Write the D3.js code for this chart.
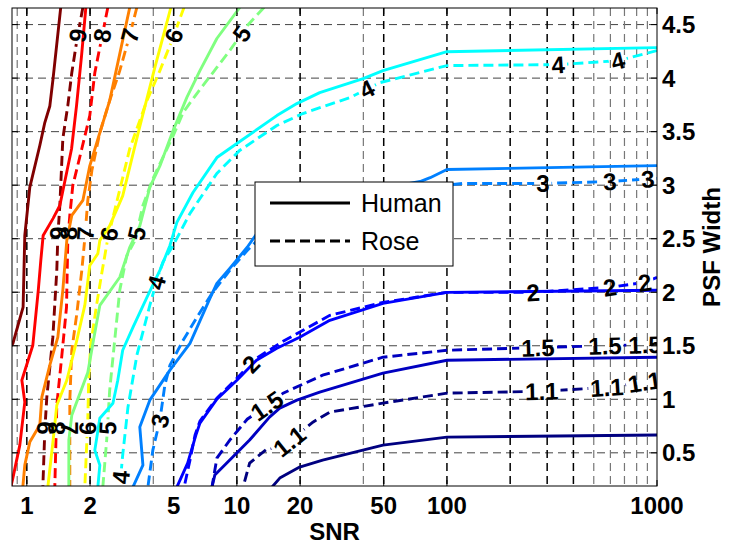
<!DOCTYPE html>
<html>
<head>
<meta charset="utf-8">
<script src="https://cdn.jsdelivr.net/npm/d3@7"></script>
<style>
  body { margin: 0; background: #fff; }
  svg { display: block; font-family: "Liberation Sans", Arial, sans-serif; }
</style>
</head>
<body>
<svg id="chart" width="730" height="546"></svg>
<script>
// contour levels, top-left (dark red) to bottom-right (navy)
const levels = [9, 8, 7, 6, 5, 4, 3, 2, 1.5, 1.1];
const levelColors = ['#800000', '#ff0000', '#ff8000', '#ffff00', '#80ff80',
                     '#00ffff', '#0080ff', '#0000ff', '#0000c0', '#000080'];

// [SNR, PSF width] points, one list per level (same order as levels)
const humanContours = [
  [[1.45,4.66],[1.334,4.0],[1.287,3.74],[1.218,3.585],[1.153,3.37],[1.033,2.98],[0.978,2.53],[0.96,1.86],[0.858,1.52],[0.81,1.46]],
  [[1.91,4.66],[1.822,4.21],[1.724,3.74],[1.633,3.34],[1.436,2.81],[1.334,2.69],[1.196,2.53],[1.166,2.30],[1.134,2.02],[1.068,1.505],[0.947,1.178],[0.978,0.973],[0.926,0.572],[0.858,0.264],[0.839,0.18]],
  [[3.09,4.66],[2.48,3.79],[2.226,3.49],[1.994,3.18],[1.848,2.857],[1.637,2.717],[1.55,2.484],[1.484,2.02],[1.405,1.58],[1.287,1.32],[1.179,1.02],[1.153,0.759],[1.033,0.60],[0.978,0.385],[0.957,0.18]],
  [[4.85,4.66],[4.07,4.10],[3.38,3.48],[2.86,2.90],[2.48,2.62],[2.226,2.484],[2.178,2.36],[1.994,2.25],[1.888,1.877],[1.73,1.551],[1.55,1.178],[1.389,0.945],[1.334,0.619],[1.259,0.18]],
  [[10.33,4.66],[8.03,4.37],[6.67,4.07],[5.78,3.82],[4.97,3.51],[4.30,3.18],[3.85,2.98],[3.45,2.62],[3.09,2.42],[2.77,2.14],[2.226,1.877],[2.084,1.57],[1.951,1.25],[1.637,0.852],[1.585,0.619],[1.585,0.18]],
  [[1000,4.285],[100,4.247],[49.6,4.07],[39.9,3.996],[24.8,3.865],[19.3,3.762],[15.5,3.65],[10,3.389],[8.03,3.258],[6.18,2.932],[5.18,2.652],[4.80,2.437],[4.30,2.204],[3.73,1.952],[3.20,1.672],[2.86,1.458],[2.71,1.178],[2.57,0.963],[2.226,0.823],[2.107,0.525],[2.226,0.385],[2.178,0.18]],
  [[1000,3.183],[100,3.146],[83.2,3.07],[74.5,3.034],[49.6,2.97],[19.9,2.857],[13.2,2.62],[11.2,2.42],[9.25,2.223],[8.03,2.083],[7.44,1.943],[5.98,1.523],[4.80,1.272],[3.85,0.992],[3.45,0.74],[3.57,0.385],[3.20,0.18]],
  [[1000,2.018],[100,1.999],[49.6,1.896],[27.7,1.738],[19.9,1.58],[15.5,1.477],[12.4,1.365],[10,1.178],[8.03,1.001],[6.67,0.777],[6.38,0.665],[5.83,0.404],[5.18,0.18]],
  [[1000,1.393],[100,1.365],[49.6,1.244],[24.8,1.066],[19.3,0.992],[16.0,0.917],[14.3,0.833],[11.5,0.619],[9.25,0.432],[7.85,0.292],[7.61,0.18]],
  [[1000,0.666],[100,0.647],[49.6,0.572],[25.6,0.432],[19.9,0.367],[16.0,0.264],[14.7,0.18]]
];

const roseContours = [
  [[1.848,4.66],[1.73,4.35],[1.637,4.05],[1.567,3.743],[1.484,3.435],[1.436,2.81],[1.405,2.53],[1.389,2.204],[1.33,1.58],[1.287,1.30],[1.245,1.02],[1.218,0.71],[1.192,0.18]],
  [[2.43,4.66],[2.275,4.38],[2.107,4.05],[1.994,3.65],[1.827,3.34],[1.655,2.997],[1.602,2.717],[1.567,2.484],[1.545,1.86],[1.468,1.41],[1.389,0.945],[1.359,0.18]],
  [[3.34,4.66],[3.09,4.40],[2.77,4.07],[2.48,3.79],[2.226,3.49],[2.04,3.137],[1.951,2.857],[1.888,2.503],[1.827,2.204],[1.73,1.80],[1.637,1.458],[1.602,0.992],[1.602,0.18]],
  [[5.6,4.66],[4.97,4.38],[4.30,4.07],[3.73,3.79],[3.09,3.34],[2.62,2.764],[2.43,2.503],[2.275,2.18],[2.154,1.896],[2.012,1.505],[1.97,1.178],[1.951,0.805],[1.888,0.18]],
  [[13.46,4.66],[11.2,4.49],[9.25,4.257],[8.03,4.10],[6.45,3.856],[5.55,3.68],[4.97,3.46],[3.98,3.06],[3.57,2.81],[3.27,2.484],[2.99,2.34],[2.77,2.02],[2.62,1.551],[2.48,1.085],[2.40,0.619],[2.30,0.18]],
  [[1000,4.257],[651,4.163],[337,4.126],[100,4.117],[48.0,3.958],[34.5,3.818],[20.6,3.669],[15.5,3.557],[10.3,3.324],[8.03,3.11],[5.98,2.736],[4.97,2.437],[4.44,2.28],[4.16,2.111],[3.85,1.877],[3.34,1.41],[3.03,0.925],[2.86,0.479],[2.77,0.18]],
  [[1000,3.063],[594,3.034],[287,3.016],[118.9,3.016],[106.9,3.006],[59.8,2.904],[24.8,2.764],[13.2,2.53],[11.2,2.39],[9.25,2.204],[7.67,1.999],[6.45,1.765],[5.55,1.551],[4.80,1.318],[4.54,1.132],[4.30,0.805],[3.98,0.525],[3.77,0.18]],
  [[1000,2.139],[877,2.092],[594,2.046],[256,1.999],[100,1.999],[49.6,1.905],[27.7,1.784],[16.6,1.542],[12.4,1.383],[10,1.197],[8.03,1.01],[6.67,0.796],[6.32,0.665],[5.98,0.432],[5.61,0.18]],
  [[1000,1.514],[307,1.486],[100,1.458],[49.6,1.393],[25.6,1.225],[16.6,1.057],[14.0,0.945],[11.2,0.814],[9.25,0.619],[8.03,0.45],[7.61,0.18]],
  [[1000,1.178],[594,1.113],[294,1.076],[100,1.057],[49.6,0.964],[27.7,0.88],[23.0,0.786],[19.9,0.684],[16.9,0.572],[13.9,0.535],[11.5,0.404],[10.7,0.18]]
];

// inline labels on the Rose contours: [level, SNR, PSF width]
const roseLabels = [
  [9,1.73,4.4],[8,2.25,4.4],[7,3.09,4.4],[6,4.96,4.4],[5,10.5,4.42],
  [9,1.405,2.55],[8,1.62,2.55],[7,1.85,2.55],[6,2.40,2.55],[5,3.34,2.55],
  [9,1.23,0.73],[8,1.40,0.73],[7,1.60,0.73],[6,1.95,0.73],[5,2.48,0.73],
  [4,4.16,2.09],[4,2.83,0.27],[4,42,3.88],[4,338,4.13],[4,652,4.16],
  [3,4.3,0.8],[3,286,3.02],[3,597,3.03],[3,906,3.04],
  [2,11.5,1.34],[2,257,1.99],[2,597,2.04],[2,877,2.08],
  [1.5,14,0.93],[1.5,271,1.48],[1.5,566,1.48],[1.5,877,1.5],
  [1.1,17.9,0.6],[1.1,283,1.07],[1.1,578,1.1],[1.1,877,1.13]
];

const xTicks = [1, 2, 5, 10, 20, 50, 100, 1000];
const xGridMajor = [1, 2, 5, 10, 20, 50, 100, 200, 300, 400];
const xGridMinor = [0.9, 4, 40, 500, 600, 700, 800, 900];
const yTicks = [0.5, 1, 1.5, 2, 2.5, 3, 3.5, 4, 4.5];

const margin = { top: 8, left: 12, right: 73, bottom: 60 };
const W = 730, H = 546;
const width = W - margin.left - margin.right;
const height = H - margin.top - margin.bottom;

const svg = d3.select('#chart');
const defs = svg.append('defs');
defs.append('clipPath').attr('id', 'plotClip')
  .append('rect').attr('width', width).attr('height', height);

const chart = svg.append('g')
  .attr('transform', `translate(${margin.left},${margin.top})`);

const x = d3.scaleLog().domain([0.85, 1000]).range([0, width]);
const y = d3.scaleLinear().domain([0.19, 4.655]).range([height, 0]);

// grid
const grid = chart.append('g').attr('clip-path', 'url(#plotClip)');
grid.selectAll('.hgrid').data(yTicks).join('line')
  .attr('x1', 0).attr('x2', width)
  .attr('y1', d => y(d)).attr('y2', d => y(d))
  .attr('stroke', '#444').attr('stroke-width', 1).attr('stroke-dasharray', '8,5');
grid.selectAll('.vminor').data(xGridMinor).join('line')
  .attr('x1', d => x(d)).attr('x2', d => x(d))
  .attr('y1', 0).attr('y2', height)
  .attr('stroke', '#777').attr('stroke-width', 1.2).attr('stroke-dasharray', '8,5');
grid.selectAll('.vmajor').data(xGridMajor).join('line')
  .attr('x1', d => x(d)).attr('x2', d => x(d))
  .attr('y1', 0).attr('y2', height)
  .attr('stroke', '#000').attr('stroke-width', 1.5).attr('stroke-dasharray', '8,5');

const line = d3.line().x(d => x(d[0])).y(d => y(d[1]));

// label text first, so their boxes can cut gaps into the rose lines
const labelG = chart.append('g').attr('clip-path', 'url(#plotClip)');

function nearestOnPath(pts, px, py) {
  let best = null;
  for (let i = 0; i < pts.length - 1; i++) {
    const ax = x(pts[i][0]), ay = y(pts[i][1]);
    const bx = x(pts[i + 1][0]), by = y(pts[i + 1][1]);
    const dx = bx - ax, dy = by - ay;
    const len2 = dx * dx + dy * dy;
    let t = len2 ? ((px - ax) * dx + (py - ay) * dy) / len2 : 0;
    t = Math.max(0, Math.min(1, t));
    const qx = ax + t * dx, qy = ay + t * dy;
    const dist = (qx - px) ** 2 + (qy - py) ** 2;
    if (!best || dist < best.dist) {
      let ang = Math.atan2(dy, dx) * 180 / Math.PI;
      if (ang > 90) ang -= 180;
      if (ang < -90) ang += 180;
      best = { dist, x: qx, y: qy, ang };
    }
  }
  return best;
}

const maskRects = levels.map(() => []);
roseLabels.forEach(([lev, sx, py]) => {
  const i = levels.indexOf(lev);
  const p = nearestOnPath(roseContours[i], x(sx), y(py));
  const t = labelG.append('text')
    .attr('transform', `translate(${p.x},${p.y}) rotate(${p.ang})`)
    .attr('text-anchor', 'middle')
    .attr('dy', '0.36em')
    .attr('font-size', 24)
    .attr('font-weight', 'bold')
    .attr('fill', '#000')
    .text(lev);
  const bb = t.node().getBBox();
  maskRects[i].push({ p, w: bb.width + 4, h: 20 });
});

levels.forEach((lev, i) => {
  const m = defs.append('mask').attr('id', `gap${i}`)
    .attr('maskUnits', 'userSpaceOnUse')
    .attr('x', -20).attr('y', -20).attr('width', W).attr('height', H);
  m.append('rect').attr('x', -20).attr('y', -20).attr('width', W).attr('height', H).attr('fill', '#fff');
  maskRects[i].forEach(r => {
    m.append('rect')
      .attr('transform', `translate(${r.p.x},${r.p.y}) rotate(${r.p.ang})`)
      .attr('x', -r.w / 2).attr('y', -r.h / 2)
      .attr('width', r.w).attr('height', r.h)
      .attr('fill', '#000');
  });
});

const lines = chart.insert('g', () => labelG.node()).attr('clip-path', 'url(#plotClip)');
levels.forEach((lev, i) => {
  lines.append('path')
    .datum(humanContours[i])
    .attr('d', line)
    .attr('fill', 'none')
    .attr('stroke', levelColors[i])
    .attr('stroke-width', 2.9)
    .attr('stroke-linejoin', 'round');
  lines.append('g').attr('mask', `url(#gap${i})`)
    .append('path')
    .datum(roseContours[i])
    .attr('d', line)
    .attr('fill', 'none')
    .attr('stroke', levelColors[i])
    .attr('stroke-width', 2.9)
    .attr('stroke-dasharray', '10,5');
});

// box and ticks
chart.append('rect')
  .attr('width', width).attr('height', height)
  .attr('fill', 'none').attr('stroke', '#000').attr('stroke-width', 1);

chart.selectAll('.xtickb').data(xTicks).join('line')
  .attr('x1', d => x(d)).attr('x2', d => x(d))
  .attr('y1', height).attr('y2', height - 6)
  .attr('stroke', '#000');
chart.selectAll('.xtickt').data(xTicks).join('line')
  .attr('x1', d => x(d)).attr('x2', d => x(d))
  .attr('y1', 0).attr('y2', 6)
  .attr('stroke', '#000');
chart.selectAll('.ytickr').data(yTicks).join('line')
  .attr('x1', width).attr('x2', width - 6)
  .attr('y1', d => y(d)).attr('y2', d => y(d))
  .attr('stroke', '#000');
chart.selectAll('.ytickl').data(yTicks).join('line')
  .attr('x1', 0).attr('x2', 6)
  .attr('y1', d => y(d)).attr('y2', d => y(d))
  .attr('stroke', '#000');

chart.selectAll('.xlab').data(xTicks).join('text')
  .attr('x', d => x(d)).attr('y', height + 28)
  .attr('text-anchor', 'middle')
  .attr('font-size', 24).attr('font-weight', 'bold')
  .text(d => d);
chart.selectAll('.ylab').data(yTicks).join('text')
  .attr('x', width + 5).attr('y', d => y(d))
  .attr('dy', '0.36em')
  .attr('font-size', 24).attr('font-weight', 'bold')
  .text(d => d);

chart.append('text')
  .attr('x', width / 2).attr('y', height + 54)
  .attr('text-anchor', 'middle')
  .attr('font-size', 24).attr('font-weight', 'bold')
  .text('SNR');
chart.append('text')
  .attr('transform', `translate(${width + 63},${height / 2}) rotate(-90)`)
  .attr('text-anchor', 'middle')
  .attr('font-size', 24).attr('font-weight', 'bold')
  .text('PSF Width');

// legend
const legend = svg.append('g').attr('transform', 'translate(255,182)');
legend.append('rect')
  .attr('width', 198).attr('height', 84)
  .attr('fill', '#fff').attr('stroke', '#000').attr('stroke-width', 1);
[['Human', null, 21], ['Rose', '10,5', 59]].forEach(([name, dash, ly]) => {
  legend.append('line')
    .attr('x1', 15).attr('x2', 95).attr('y1', ly).attr('y2', ly)
    .attr('stroke', '#000').attr('stroke-width', 2.9)
    .attr('stroke-dasharray', dash);
  legend.append('text')
    .attr('x', 106).attr('y', ly).attr('dy', '0.36em')
    .attr('font-size', 25)
    .text(name);
});
</script>
</body>
</html>
